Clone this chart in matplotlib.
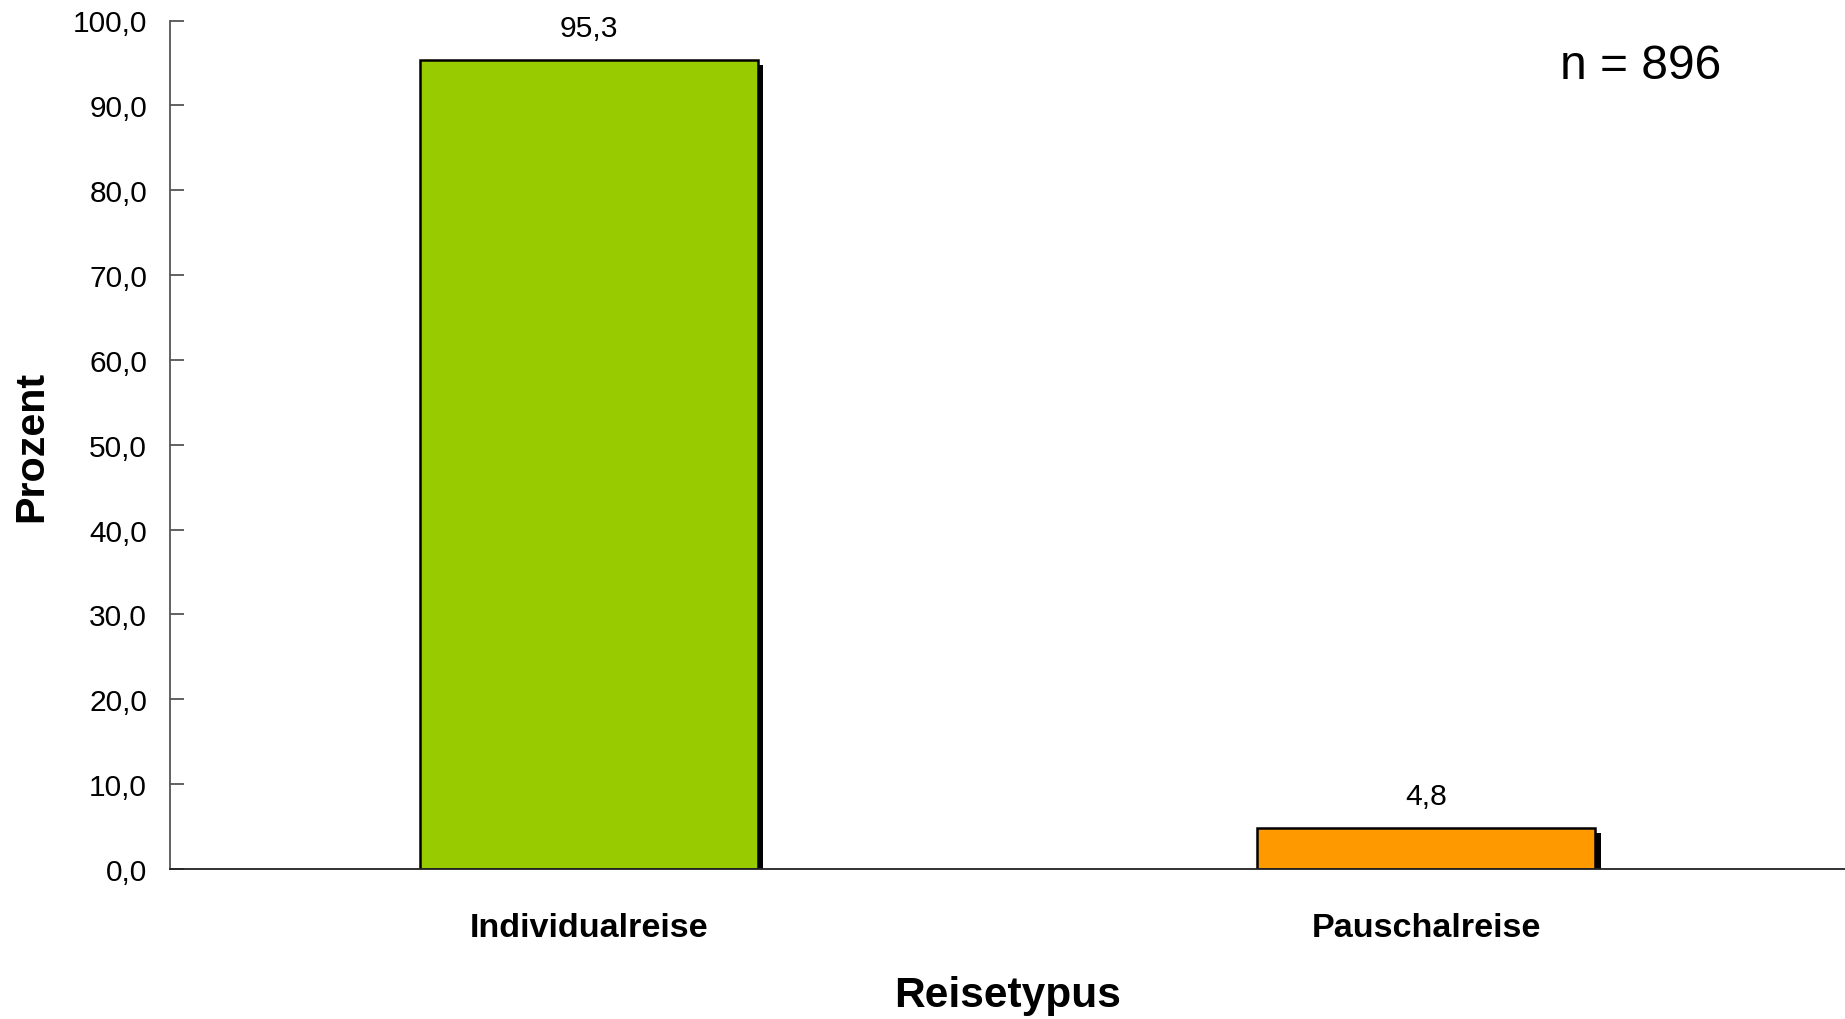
import matplotlib
matplotlib.use("Agg")
import matplotlib.pyplot as plt
import matplotlib.transforms as mtransforms

plt.rcParams['font.family'] = ['Liberation Sans', 'DejaVu Sans']

categories = ["Individualreise", "Pauschalreise"]
values = [95.3, 4.8]
colors = ["#99CC00", "#FF9900"]
yticks = [0, 10, 20, 30, 40, 50, 60, 70, 80, 90, 100]
ytick_labels = ["0,0", "10,0", "20,0", "30,0", "40,0", "50,0", "60,0", "70,0", "80,0", "90,0", "100,0"]
value_labels = ["95,3", "4,8"]
x_title = "Reisetypus"
y_title = "Prozent"
n_text = "n = 896"

W, H = 1845, 1020
fig = plt.figure(figsize=(W / 100, H / 100), dpi=100)
ax = fig.add_axes([170 / W, 1 - 870 / H, 1 - 170 / W, (870 - 21.5) / H])

x = list(range(len(categories)))
bw = 0.403

# shadow
shadow_tr = ax.transData + mtransforms.ScaledTranslation(5.5 / 100, -4.5 / 100, fig.dpi_scale_trans)
ax.bar(x, values, width=bw, color="black", linewidth=0, transform=shadow_tr, zorder=1)
bars = ax.bar(x, values, width=bw, color=colors, edgecolor="black", linewidth=1.8, zorder=2)

for xi, v, lab in zip(x, values, value_labels):
    ax.annotate(lab, (xi, v), xytext=(0, 13.5), textcoords="offset points",
                ha="center", va="bottom", fontsize=21.7)

ax.set_xlim(-0.5, 1.5)
ax.set_ylim(0, 100)
ax.set_yticks(yticks)
ax.set_yticklabels(ytick_labels, fontsize=21.5)
ax.set_xticks(x)
ax.set_xticklabels(categories, fontsize=24.6, fontweight="bold")
ax.tick_params(axis="y", direction="in", length=10, width=1.3, color="#555555", pad=16.5)
ax.tick_params(axis="x", length=0, pad=31)

for s in ["top", "right"]:
    ax.spines[s].set_visible(False)
ax.spines["left"].set_color("#555555")
ax.spines["left"].set_linewidth(1.3)
ax.spines["bottom"].set_color("#222222")
ax.spines["bottom"].set_linewidth(1.3)
ax.spines["bottom"].set_zorder(3)

fig.text((170 + W) / 2 / W, 1 - 1006.7 / H, x_title, ha="center", va="baseline",
         fontsize=30.5, fontweight="bold")
fig.text(31 / W, 1 - 446 / H, y_title, ha="center", va="center", rotation=90,
         fontsize=29.7, fontweight="bold")
fig.text(1640.8 / W, 1 - 79.3 / H, n_text, ha="center", va="baseline", fontsize=34.5)

fig.savefig("out.png", dpi=100)
